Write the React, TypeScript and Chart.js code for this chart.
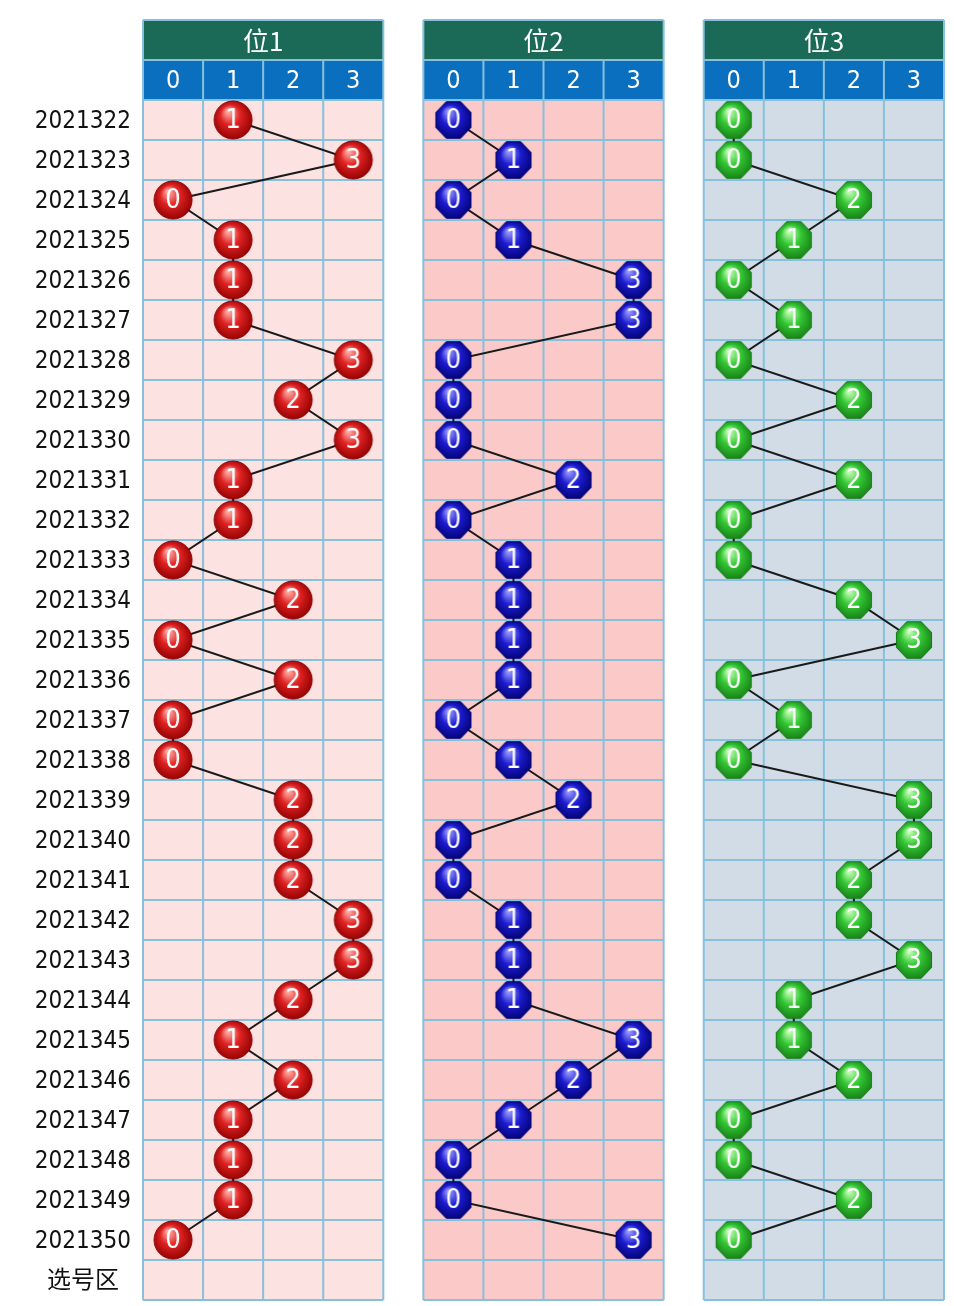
import { useEffect, useRef } from "react";
import { Chart, registerables } from "chart.js";

Chart.register(...registerables);

const periods = [
  "2021322", "2021323", "2021324", "2021325", "2021326", "2021327", "2021328",
  "2021329", "2021330", "2021331", "2021332", "2021333", "2021334", "2021335",
  "2021336", "2021337", "2021338", "2021339", "2021340", "2021341", "2021342",
  "2021343", "2021344", "2021345", "2021346", "2021347", "2021348", "2021349",
  "2021350",
];
const pickRowLabel = "选号区";
const panelTitles = ["位1", "位2", "位3"];
const digitLabels = ["0", "1", "2", "3"];

const pos1 = [1, 3, 0, 1, 1, 1, 3, 2, 3, 1, 1, 0, 2, 0, 2, 0, 0, 2, 2, 2, 3, 3, 2, 1, 2, 1, 1, 1, 0];
const pos2 = [0, 1, 0, 1, 3, 3, 0, 0, 0, 2, 0, 1, 1, 1, 1, 0, 1, 2, 0, 0, 1, 1, 1, 3, 2, 1, 0, 0, 3];
const pos3 = [0, 0, 2, 1, 0, 1, 0, 2, 0, 2, 0, 0, 2, 3, 0, 1, 0, 3, 3, 2, 2, 3, 1, 1, 2, 0, 0, 2, 0];

const panelValues = [pos1, pos2, pos3];
const rowLabels = [...periods, pickRowLabel];

const PANEL_STEP = 14 / 3;
const panelBg = ["#fde2e2", "#fcc9c9", "#d1dce7"];
const gridColor = "#86c0dc";
const titleBg = "#1b6a58";
const digitBg = "#0b6fbf";

const ballColors = [
  { light: "#ffb0a8", mid: "#e02222", dark: "#8e0000", shape: "circle" },
  { light: "#9a9aff", mid: "#1c1cd0", dark: "#00006e", shape: "oct" },
  { light: "#c8ffb8", mid: "#34c834", dark: "#157a15", shape: "oct" },
];

function makeBall(ci: number, digit: string): HTMLCanvasElement {
  const size = 42;
  const c = document.createElement("canvas");
  c.width = size;
  c.height = size;
  const ctx = c.getContext("2d")!;
  const col = ballColors[ci];
  const cx = size / 2, cy = size / 2, r = 19;
  ctx.beginPath();
  if (col.shape === "circle") {
    ctx.arc(cx, cy, r, 0, Math.PI * 2);
  } else {
    for (let i = 0; i < 8; i++) {
      const a = Math.PI / 8 + (i * Math.PI) / 4;
      const px = cx + Math.cos(a) * r * 1.0;
      const py = cy + Math.sin(a) * r * 1.04;
      if (i === 0) ctx.moveTo(px, py);
      else ctx.lineTo(px, py);
    }
    ctx.closePath();
  }
  const g = ctx.createRadialGradient(cx - 5, cy - 9, 1, cx, cy, r + 2);
  g.addColorStop(0, col.light);
  g.addColorStop(0.45, col.mid);
  g.addColorStop(1, col.dark);
  ctx.fillStyle = g;
  ctx.fill();
  ctx.lineWidth = 1;
  ctx.strokeStyle = col.dark;
  ctx.stroke();
  ctx.fillStyle = "#ffffff";
  ctx.font = '27px "DejaVu Sans Condensed", "DejaVu Sans", sans-serif';
  ctx.textAlign = "center";
  ctx.textBaseline = "middle";
  ctx.fillText(digit, cx, cy + 1);
  return c;
}

const gridPlugin = {
  id: "trendGrid",
  beforeDatasetsDraw(chart: any) {
    const { ctx } = chart;
    const x = chart.scales.x;
    const y = chart.scales.y;
    const nRows = rowLabels.length;
    ctx.save();
    for (let p = 0; p < 3; p++) {
      const off = p * PANEL_STEP;
      const left = x.getPixelForValue(off - 0.5);
      const right = x.getPixelForValue(off + 3.5);
      const top = y.getPixelForValue(-2.5);
      const hMid = y.getPixelForValue(-1.5);
      const hBot = y.getPixelForValue(-0.5);
      const bottom = y.getPixelForValue(nRows - 0.5);
      ctx.fillStyle = titleBg;
      ctx.fillRect(left, top, right - left, hMid - top);
      ctx.fillStyle = digitBg;
      ctx.fillRect(left, hMid, right - left, hBot - hMid);
      ctx.fillStyle = panelBg[p];
      ctx.fillRect(left, hBot, right - left, bottom - hBot);

      ctx.strokeStyle = gridColor;
      ctx.lineWidth = 2;
      ctx.beginPath();
      for (let k = 0; k <= 4; k++) {
        const gx = x.getPixelForValue(off - 0.5 + k);
        const startY = k === 0 || k === 4 ? top : hMid;
        ctx.moveTo(gx, startY);
        ctx.lineTo(gx, bottom);
      }
      for (let r = -2; r <= nRows; r++) {
        const gy = y.getPixelForValue(r - 0.5);
        ctx.moveTo(left, gy);
        ctx.lineTo(right, gy);
      }
      ctx.stroke();

      ctx.fillStyle = "#ffffff";
      ctx.textAlign = "center";
      ctx.textBaseline = "middle";
      ctx.font = '26px "Noto Sans CJK SC", sans-serif';
      ctx.fillText(panelTitles[p], (left + right) / 2, (top + hMid) / 2 + 1);
      ctx.font = '25px "DejaVu Sans Condensed", "DejaVu Sans", sans-serif';
      for (let d = 0; d < 4; d++) {
        ctx.fillText(digitLabels[d], x.getPixelForValue(off + d), (hMid + hBot) / 2 + 1);
      }
    }
    ctx.restore();
  },
};

export default function App() {
  const ref = useRef<HTMLCanvasElement | null>(null);
  useEffect(() => {
    if (!ref.current) return;
    const images = ballColors.map((_, ci) => digitLabels.map((d) => makeBall(ci, d)));
    const datasets = panelValues.map((vals, p) => ({
      data: vals.map((v, i) => ({ x: p * PANEL_STEP + v, y: i })),
      showLine: true,
      borderColor: "#1a1a1a",
      borderWidth: 2,
      pointStyle: (c: any) => images[p][vals[c.dataIndex]],
      pointRadius: 19,
      pointHoverRadius: 19,
      clip: false as any,
    }));
    const chart = new Chart(ref.current, {
      type: "scatter",
      data: { datasets },
      plugins: [gridPlugin],
      options: {
        animation: false,
        responsive: false,
        devicePixelRatio: 1,
        layout: { autoPadding: false, padding: { top: 20, bottom: 6, right: 10, left: 0 } },
        plugins: { legend: { display: false }, tooltip: { enabled: false } },
        scales: {
          x: {
            type: "linear",
            min: -0.5,
            max: 2 * PANEL_STEP + 3.5,
            display: false,
          },
          y: {
            type: "linear",
            reverse: true,
            min: -2.5,
            max: rowLabels.length - 0.5,
            grid: { display: false, drawTicks: false },
            border: { display: false },
            afterFit: (s: any) => {
              s.width = 143;
              s.paddingTop = 0;
              s.paddingBottom = 0;
              s.paddingLeft = 0;
              s.paddingRight = 0;
            },
            afterBuildTicks: (s: any) => {
              s.ticks = rowLabels.map((_, i) => ({ value: i }));
            },
            ticks: {
              padding: 12,
              labelOffset: 2,
              crossAlign: "center",
              color: "#111111",
              font: { family: '"DejaVu Sans Condensed", "Noto Sans CJK SC", sans-serif', size: 24 },
              callback: (v: any) => rowLabels[v as number] ?? "",
            },
          },
        },
      },
    });
    return () => chart.destroy();
  }, []);
  return (
    <div style={{ position: "absolute", left: 0, top: 0, width: 954, height: 1306, background: "#ffffff" }}>
      <canvas ref={ref} width={954} height={1306} />
    </div>
  );
}
